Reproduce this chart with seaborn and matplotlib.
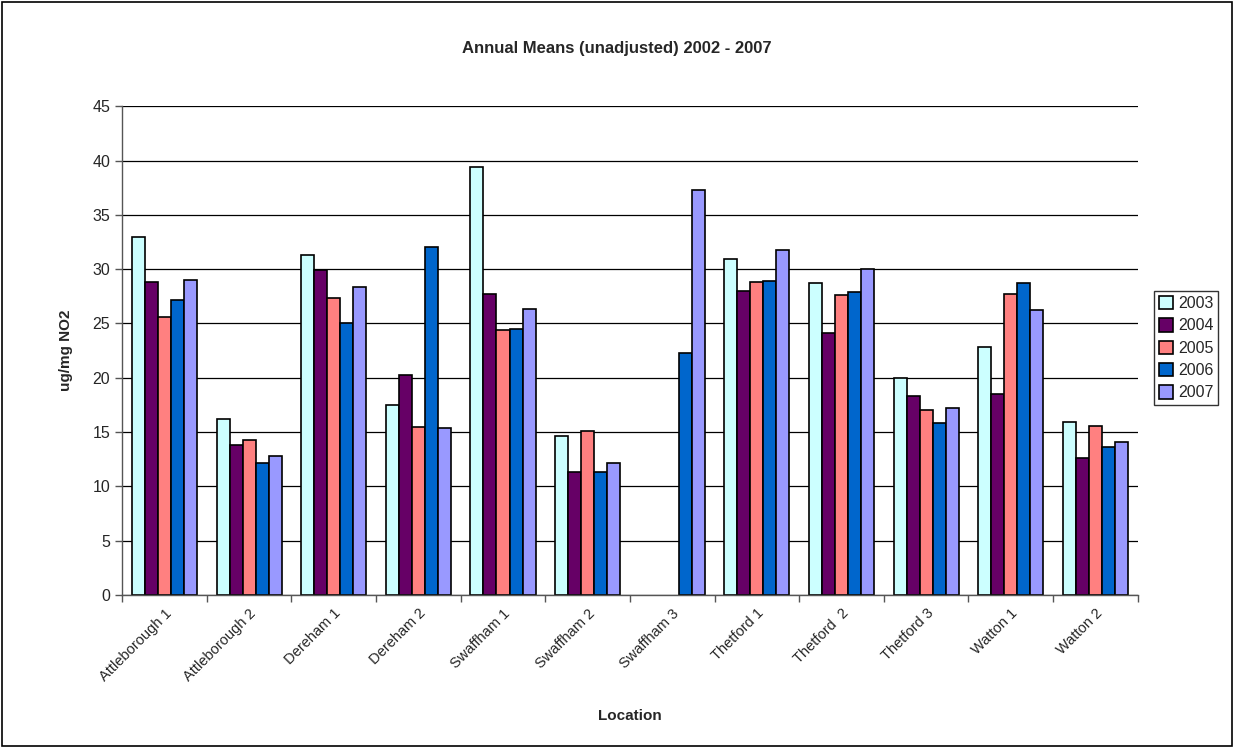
import matplotlib
matplotlib.use("Agg")
import matplotlib.pyplot as plt
import matplotlib.transforms as mtransforms
import numpy as np
import pandas as pd
import seaborn as sns
from matplotlib.patches import Rectangle

# Categories and series.
locations = [
    "Attleborough 1", "Attleborough 2", "Dereham 1", "Dereham 2",
    "Swaffham 1", "Swaffham 2", "Swaffham 3", "Thetford 1",
    "Thetford  2", "Thetford 3", "Watton 1", "Watton 2",
]
years = ["2003", "2004", "2005", "2006", "2007"]

y2003 = [33.0, 16.2, 31.3, 17.5, 39.4, 14.6, np.nan, 30.9, 28.7, 20.0, 22.8, 15.9]
y2004 = [28.8, 13.8, 29.9, 20.3, 27.7, 11.3, np.nan, 28.0, 24.1, 18.3, 18.5, 12.6]
y2005 = [25.6, 14.3, 27.3, 15.5, 24.4, 15.1, np.nan, 28.8, 27.6, 17.0, 27.7, 15.6]
y2006 = [27.2, 12.2, 25.0, 32.0, 24.5, 11.3, 22.3, 28.9, 27.9, 15.8, 28.7, 13.6]
y2007 = [29.0, 12.8, 28.4, 15.4, 26.3, 12.2, 37.3, 31.8, 30.0, 17.2, 26.2, 14.1]

colors = ["#CCFFFF", "#660066", "#FF8080", "#0066CC", "#9999FF"]

rows = []
for year, vals in zip(years, [y2003, y2004, y2005, y2006, y2007]):
    for loc, v in zip(locations, vals):
        rows.append({"Location": loc, "Year": year, "value": v})
df = pd.DataFrame(rows)

sns.set_theme(style="white")
plt.rcParams["font.family"] = ["Liberation Sans", "DejaVu Sans"]

fig = plt.figure(figsize=(12.34, 7.48), dpi=100)
ax = fig.add_axes([0.099, 0.2045, 0.823, 0.6535])

sns.barplot(
    data=df, x="Location", y="value", hue="Year",
    order=locations, hue_order=years, palette=colors, saturation=1,
    width=0.77, edgecolor="black", linewidth=1.2,
    errorbar=None, ax=ax,
)

ax.set_ylim(0, 45)
ax.set_yticks(np.arange(0, 46, 5))
ax.set_xlim(-0.5, len(locations) - 0.5)
ax.yaxis.grid(True, color="black", linewidth=0.9)
ax.set_axisbelow(True)
for side in ["top", "right"]:
    ax.spines[side].set_visible(False)
for side in ["left", "bottom"]:
    ax.spines[side].set_color("#555555")
    ax.spines[side].set_linewidth(1.0)

ax.set_xticks(np.arange(len(locations)))
ax.set_xticklabels(locations, rotation=45, ha="right", rotation_mode="anchor", fontsize=10.5)
shift = mtransforms.ScaledTranslation(-10 / 100, 0, fig.dpi_scale_trans)
for lbl in ax.get_xticklabels():
    lbl.set_transform(lbl.get_transform() + shift)
ax.set_xticks(np.arange(-0.5, len(locations), 1), minor=True)
ax.tick_params(axis="x", which="major", length=0, pad=8)
ax.tick_params(axis="x", which="minor", length=5, width=1, color="#555555", bottom=True)
ax.tick_params(axis="y", length=5, width=1, color="#555555", labelsize=11.5, left=True)

ax.set_xlabel("Location", fontsize=11, fontweight="bold", labelpad=18)
ax.set_ylabel("ug/mg NO2", fontsize=11, fontweight="bold", labelpad=14)
fig.text(0.5, 0.935, "Annual Means (unadjusted) 2002 - 2007",
         ha="center", va="center", fontsize=12, fontweight="bold")

leg = ax.legend(
    loc="center left", bbox_to_anchor=(1.008, 0.505), frameon=True,
    fontsize=11.5, handlelength=0.9, handleheight=0.9, handletextpad=0.3,
    borderpad=0.3, labelspacing=0.45, fancybox=False,
)
leg.get_frame().set_edgecolor("black")
leg.get_frame().set_linewidth(1.0)

fig.patches.append(Rectangle((0.002, 0.003), 0.996, 0.994, transform=fig.transFigure,
                             fill=False, edgecolor="black", linewidth=1.2))

fig.savefig("out.png", dpi=100)
